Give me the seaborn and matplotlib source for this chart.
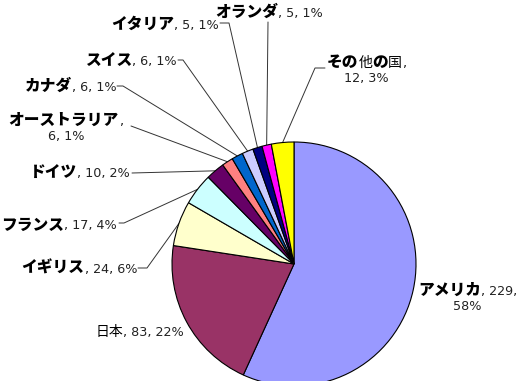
import numpy as np
import matplotlib
matplotlib.use("Agg")
import matplotlib.pyplot as plt
import seaborn as sns
from matplotlib.offsetbox import TextArea, HPacker, VPacker, AnnotationBbox

# ---- data ----
countries = ["アメリカ", "日本", "イギリス", "フランス", "ドイツ", "オーストラリア",
             "カナダ", "スイス", "イタリア", "オランダ", "その他の国"]
values = [229, 83, 24, 17, 10, 6, 6, 6, 5, 5, 12]
pct_labels = ["58%", "22%", "6%", "4%", "2%", "1%", "1%", "1%", "1%", "1%", "3%"]
colors = ["#9999FF", "#993366", "#FFFFCC", "#CCFFFF", "#660066", "#FF8080",
          "#0066CC", "#CCCCFF", "#000080", "#FF00FF", "#FFFF00"]

sns.set_theme(style="white")
plt.rcParams['font.family'] = ['DejaVu Sans', 'Noto Sans CJK JP']

W, H = 530, 381
CX, CY, R = 294, 264, 122   # pie centre / radius in pixels

fig = plt.figure(figsize=(W / 100, H / 100), dpi=100)
ax = fig.add_axes([0, 0, 1, 1])


def px(x, y):
    return ((x - CX) / R, (CY - y) / R)


wedges, _ = ax.pie(values, colors=colors, startangle=90, counterclock=False,
                   radius=1.0, center=(0, 0), frame=True,
                   wedgeprops=dict(edgecolor="black", linewidth=0.8))
ax.set_xlim(-CX / R, (W - CX) / R)
ax.set_ylim(-(H - CY) / R, CY / R)
ax.set_aspect("equal")
ax.axis("off")

KANA = dict(family="Noto Sans CJK JP", weight="heavy", size=11.3, color="black")
KANJI = dict(family="Noto Sans CJK JP", weight="normal", size=10, color="black")
NUM = dict(family="DejaVu Sans", weight="normal", size=9.2, color="#222222")


def name_runs(name):
    runs = []
    for ch in name:
        kanji = '\u4e00' <= ch <= '\u9fff'
        if runs and runs[-1][1] == kanji:
            runs[-1][0] += ch
        else:
            runs.append([ch, kanji])
    return [TextArea(t, textprops=(KANJI if k else KANA)) for t, k in runs]


# layout: (anchor pixel, box alignment, line split, leader start, leader knee)
layout = {
    "アメリカ": ((418, 298), (0, 0.5), "pct", None, None),
    "日本": ((184, 332), (1, 0.5), None, None, None),
    "イギリス": ((137, 268), (1, 0.5), None, (138, 268), (147, 268)),
    "フランス": ((117, 225), (1, 0.5), None, (119, 223), (124, 223)),
    "ドイツ": ((130, 172), (1, 0.5), None, (132, 173), (132, 173)),
    "オーストラリア": ((123, 128), (1, 0.5), "val", (131, 126), (131, 126)),
    "カナダ": ((117, 86), (1, 0.5), None, (117, 86), (123, 86)),
    "スイス": ((177, 60), (1, 0.5), None, (178, 60), (183, 60)),
    "イタリア": ((219, 24), (1, 0.5), None, (220, 23), (229, 23)),
    "オランダ": ((269, 12), (0.5, 0.5), None, (268, 22), (268, 22)),
    "その他の国": ((327, 70), (0, 0.5), "val", (325, 68), (315, 68)),
}

for w, name, val, pct in zip(wedges, countries, values, pct_labels):
    pos, align, split, start, knee = layout[name]
    if split == "val":
        line1 = HPacker(children=name_runs(name) + [TextArea(",", textprops=NUM)],
                        align="baseline", pad=0, sep=0)
        line2 = TextArea(f"{val}, {pct}", textprops=NUM)
        box = VPacker(children=[line1, line2], align="center", pad=0, sep=1)
    elif split == "pct":
        line1 = HPacker(children=name_runs(name) + [TextArea(f", {val},", textprops=NUM)],
                        align="baseline", pad=0, sep=0)
        line2 = TextArea(pct, textprops=NUM)
        box = VPacker(children=[line1, line2], align="center", pad=0, sep=1)
    else:
        box = HPacker(children=name_runs(name) + [TextArea(f", {val}, {pct}", textprops=NUM)],
                      align="baseline", pad=0, sep=0)
    ab = AnnotationBbox(box, px(*pos), xycoords="data", box_alignment=align,
                        frameon=False, pad=0)
    ax.add_artist(ab)
    if start is not None:
        mid = np.deg2rad((w.theta1 + w.theta2) / 2)
        edge = (np.cos(mid), np.sin(mid))
        s = px(*start)
        k = px(*knee)
        ax.plot([s[0], k[0], edge[0]], [s[1], k[1], edge[1]],
                color="#333333", lw=0.7, zorder=0)

fig.savefig("out.png", dpi=100)
